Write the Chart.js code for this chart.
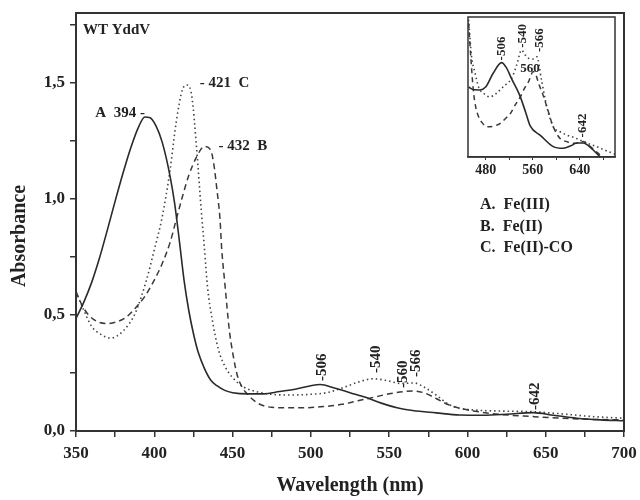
<!DOCTYPE html>
<html>
<head>
<meta charset="utf-8">
<script src="https://cdn.jsdelivr.net/npm/chart.js@4.4.0/dist/chart.umd.min.js"></script>
<style>
  html, body { margin: 0; padding: 0; background: #fff; }
  #wrap { position: relative; width: 640px; height: 500px; }
  #main { position: absolute; left: 0; top: 0; }
  #inset { position: absolute; left: 460px; top: 15px; }
</style>
</head>
<body>
<div id="wrap">
  <canvas id="main" width="640" height="500"></canvas>
  <canvas id="inset" width="165" height="170"></canvas>
</div>
<script>
// === Main spectra (wavelength nm / absorbance) ===
const wlA  = [350, 355, 360, 365, 370, 375, 380, 385, 390, 394, 397, 401, 405, 410, 413, 416, 419, 422, 425, 428, 432, 436, 440, 445, 450, 460, 470, 480, 490, 500, 506, 515, 525, 535, 545, 555, 565, 580, 595, 610, 625, 642, 655, 670, 685, 700];
const absA = [0.485, 0.555, 0.64, 0.745, 0.865, 0.99, 1.11, 1.22, 1.31, 1.352, 1.35, 1.315, 1.245, 1.10, 0.98, 0.82, 0.65, 0.52, 0.42, 0.34, 0.27, 0.22, 0.195, 0.175, 0.165, 0.16, 0.16, 0.17, 0.18, 0.195, 0.20, 0.185, 0.165, 0.145, 0.12, 0.10, 0.088, 0.078, 0.069, 0.068, 0.072, 0.079, 0.068, 0.055, 0.048, 0.044];

const wlB  = [350, 354, 358, 364, 370, 376, 382, 388, 394, 400, 405, 410, 414, 418, 422, 427, 432, 436, 438, 440, 442, 443, 445, 448, 450, 453, 456, 460, 466, 475, 485, 495, 508, 520, 530, 540, 550, 560, 566, 572, 580, 588, 595, 605, 620, 642, 660, 680, 700];
const absB = [0.60, 0.54, 0.50, 0.47, 0.463, 0.47, 0.49, 0.53, 0.58, 0.65, 0.72, 0.81, 0.91, 1.01, 1.10, 1.18, 1.225, 1.21, 1.15, 1.04, 0.91, 0.79, 0.64, 0.43, 0.34, 0.24, 0.19, 0.155, 0.12, 0.102, 0.10, 0.10, 0.105, 0.115, 0.13, 0.145, 0.16, 0.17, 0.172, 0.165, 0.14, 0.113, 0.098, 0.085, 0.072, 0.062, 0.055, 0.05, 0.048];

const wlC  = [350, 355, 360, 365, 372, 380, 388, 395, 400, 405, 410, 414, 418, 421, 424, 427, 430, 432, 434, 437, 441, 445, 450, 457, 465, 475, 487, 500, 510, 520, 530, 540, 550, 557, 566, 572, 580, 588, 595, 605, 620, 642, 660, 680, 700];
const absC = [0.60, 0.52, 0.45, 0.42, 0.40, 0.43, 0.51, 0.65, 0.78, 0.92, 1.12, 1.33, 1.47, 1.49, 1.44, 1.22, 0.95, 0.79, 0.62, 0.48, 0.35, 0.28, 0.23, 0.19, 0.17, 0.158, 0.155, 0.158, 0.165, 0.185, 0.21, 0.225, 0.215, 0.205, 0.207, 0.19, 0.155, 0.115, 0.098, 0.09, 0.086, 0.083, 0.074, 0.062, 0.055];

// === Inset (450-700 nm, relative scale) ===
const inWlA = [451, 460, 470, 480, 493, 507, 515, 524, 538, 548, 556, 573, 595, 612, 625, 635, 646, 655, 663, 675];
const inA   = [0.50, 0.48, 0.479, 0.50, 0.60, 0.674, 0.64, 0.56, 0.44, 0.32, 0.22, 0.155, 0.074, 0.062, 0.08, 0.10, 0.10, 0.08, 0.05, 0.0];
const inWlB = [451, 455, 459, 463, 468, 475, 482, 493, 505, 515, 522, 530, 539, 546, 553, 561, 566, 570, 577, 584, 595, 607, 618, 629, 638, 646, 655, 665, 675];
const inB   = [0.955, 0.70, 0.479, 0.36, 0.288, 0.24, 0.216, 0.22, 0.24, 0.28, 0.31, 0.37, 0.43, 0.49, 0.538, 0.61, 0.58, 0.526, 0.45, 0.36, 0.216, 0.13, 0.11, 0.098, 0.10, 0.11, 0.085, 0.05, 0.014];
const inWlC = [451, 456, 462, 468, 478, 487, 497, 507, 515, 524, 533, 541, 547, 553, 560, 567, 575, 584, 595, 607, 618, 630, 641, 655, 669, 685, 700];
const inC   = [0.98, 0.72, 0.60, 0.50, 0.45, 0.43, 0.45, 0.49, 0.52, 0.56, 0.66, 0.764, 0.73, 0.705, 0.70, 0.716, 0.55, 0.36, 0.216, 0.18, 0.157, 0.14, 0.12, 0.095, 0.074, 0.045, 0.02];

const legendLines = ["A.  Fe(III)", "B.  Fe(II)", "C.  Fe(II)-CO"];

// peak labels, anchored in data units
const mainNotes = [
  { text: "A  394 -", x: 394, y: 1.37, align: "right" },
  { text: "- 421  C", x: 429, y: 1.50 },
  { text: "- 432  B", x: 441, y: 1.225 },
  { text: "-506", x: 507, y: 0.215, rot: true },
  { text: "-540", x: 541.5, y: 0.25, rot: true },
  { text: "-560", x: 559, y: 0.185, rot: true },
  { text: "-566", x: 567.5, y: 0.233, rot: true },
  { text: "-642", x: 643.5, y: 0.09, rot: true }
];
const insetNotes = [
  { text: "-506", x: 507, y: 0.69, rot: true },
  { text: "-540", x: 543, y: 0.78, rot: true },
  { text: "-566", x: 572, y: 0.75, rot: true },
  { text: "560", x: 555.5, y: 0.63, align: "center" },
  { text: "-642", x: 645, y: 0.14, rot: true }
];

const SERIF = "'Liberation Serif', 'Times New Roman', serif";
const INK = "#222";
Chart.defaults.font.family = SERIF;
Chart.defaults.font.weight = "bold";
Chart.defaults.color = INK;

const pts = (xs, ys) => xs.map((x, i) => ({ x, y: ys[i] }));

// keep the plot area where layout.padding puts it
const noEdgePad = s => { s.paddingLeft = 0; s.paddingRight = 0; s.paddingTop = 0; s.paddingBottom = 0; };

// box around the plot area
const frame = {
  id: "frame",
  afterDraw(chart, args, opts) {
    const { ctx, chartArea: a } = chart;
    ctx.save();
    ctx.strokeStyle = "#333";
    ctx.lineWidth = opts.width || 2;
    ctx.strokeRect(a.left, a.top, a.right - a.left, a.bottom - a.top);
    ctx.restore();
  }
};

// peak labels
const notes = {
  id: "notes",
  afterDatasetsDraw(chart, args, opts) {
    const { ctx, scales: { x, y } } = chart;
    ctx.save();
    ctx.fillStyle = INK;
    ctx.font = opts.font;
    ctx.textBaseline = "middle";
    opts.items.forEach(n => {
      ctx.save();
      ctx.translate(x.getPixelForValue(n.x), y.getPixelForValue(n.y));
      if (n.rot) ctx.rotate(-Math.PI / 2);
      ctx.textAlign = n.align || "left";
      ctx.fillText(n.text, 0, 0);
      ctx.restore();
    });
    ctx.restore();
  }
};

// free text: sample name, legend, y title
const extras = {
  id: "extras",
  afterDraw(chart) {
    const { ctx, chartArea: a } = chart;
    ctx.save();
    ctx.fillStyle = INK;
    ctx.textBaseline = "middle";
    ctx.font = "bold 15px " + SERIF;
    ctx.fillText("WT YddV", a.left + 7, a.top + 17);
    ctx.font = "bold 16px " + SERIF;
    legendLines.forEach((t, i) => ctx.fillText(t, 480, 205 + i * 21.5));
    ctx.translate(20, 236);
    ctx.rotate(-Math.PI / 2);
    ctx.textAlign = "center";
    ctx.font = "bold 20px " + SERIF;
    ctx.fillText("Absorbance", 0, 0);
    ctx.restore();
  }
};

const lineStyle = {
  A: { borderColor: "#2a2a2a", borderWidth: 1.6, borderDash: [] },
  B: { borderColor: "#3a3a3a", borderWidth: 1.5, borderDash: [6, 4] },
  C: { borderColor: "#444", borderWidth: 1.6, borderDash: [1.5, 3] }
};

function ds(label, data, st) {
  return Object.assign({
    label, data, pointRadius: 0, fill: false,
    cubicInterpolationMode: "monotone"
  }, st);
}

const isMult = (v, s) => Math.abs(v / s - Math.round(v / s)) < 1e-6;

// === Main chart ===
new Chart(document.getElementById("main"), {
  type: "line",
  data: {
    datasets: [
      ds("A", pts(wlA, absA), lineStyle.A),
      ds("B", pts(wlB, absB), lineStyle.B),
      ds("C", pts(wlC, absC), lineStyle.C)
    ]
  },
  options: {
    responsive: false,
    animation: false,
    layout: { padding: { left: 0, right: 16, top: 13, bottom: 0 } },
    plugins: {
      legend: { display: false },
      tooltip: { enabled: false },
      frame: { width: 2 },
      notes: { font: "bold 15px " + SERIF, items: mainNotes }
    },
    scales: {
      x: {
        type: "linear", min: 350, max: 700,
        afterFit: s => { s.height = 69; noEdgePad(s); },
        border: { color: "#333", width: 2 },
        grid: { drawOnChartArea: false, drawTicks: true, tickLength: 6, color: "#333", lineWidth: 1.5 },
        ticks: {
          stepSize: 25, includeBounds: false, padding: 6, maxRotation: 0, autoSkip: false,
          font: { size: 17, weight: "bold" }, color: INK,
          callback: v => isMult(v, 50) ? String(v) : ""
        },
        title: { display: true, text: "Wavelength (nm)", font: { size: 20, weight: "bold" }, color: INK, padding: { top: 0, bottom: 2 } }
      },
      y: {
        min: 0, max: 1.8,
        afterFit: s => { s.width = 76; noEdgePad(s); },
        border: { color: "#333", width: 2 },
        grid: { drawOnChartArea: false, drawTicks: true, tickLength: 6, color: "#333", lineWidth: 1.5 },
        ticks: {
          stepSize: 0.25, includeBounds: false, padding: 5, autoSkip: false,
          font: { size: 17, weight: "bold" }, color: INK,
          callback: v => isMult(v, 0.5) ? v.toFixed(1).replace(".", ",") : ""
        }
      }
    }
  },
  plugins: [frame, notes, extras]
});

// === Inset chart ===
new Chart(document.getElementById("inset"), {
  type: "line",
  data: {
    datasets: [
      ds("A", pts(inWlA, inA), lineStyle.A),
      ds("B", pts(inWlB, inB), Object.assign({}, lineStyle.B, { borderDash: [5, 4] })),
      ds("C", pts(inWlC, inC), lineStyle.C)
    ]
  },
  options: {
    responsive: false,
    animation: false,
    layout: { padding: { left: 8, right: 10, top: 2, bottom: 0 } },
    plugins: {
      legend: { display: false },
      tooltip: { enabled: false },
      frame: { width: 1.5 },
      notes: { font: "bold 13px " + SERIF, items: insetNotes }
    },
    scales: {
      x: {
        type: "linear", min: 450, max: 700,
        afterFit: s => { s.height = 28; noEdgePad(s); },
        border: { color: "#333", width: 1.5 },
        grid: { drawOnChartArea: false, drawTicks: true, tickLength: 3, color: "#333", lineWidth: 1 },
        ticks: {
          stepSize: 40, includeBounds: false, padding: 2, maxRotation: 0, autoSkip: false,
          font: { size: 14, weight: "bold" }, color: INK,
          callback: v => isMult(v - 480, 80) ? String(v) : ""
        }
      },
      y: { min: 0, max: 1, display: false }
    }
  },
  plugins: [frame, notes]
});
</script>
</body>
</html>
